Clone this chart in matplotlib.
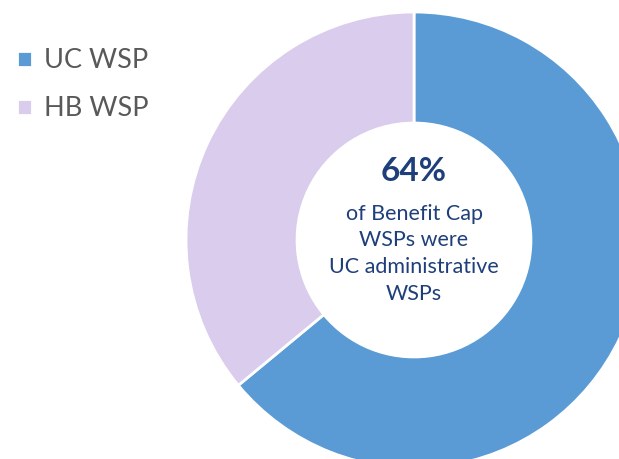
import matplotlib
matplotlib.use("Agg")
import matplotlib.pyplot as plt

labels = ["UC WSP", "HB WSP"]
values = [64, 36]
colors = ["#5B9BD5", "#D9CCEC"]
center_big = "64%"
center_text = "of Benefit Cap\nWSPs were\nUC administrative\nWSPs"

plt.rcParams['font.family'] = ['Lato', 'DejaVu Sans']

W, H = 619, 459
fig = plt.figure(figsize=(W / 100, H / 100), dpi=100)
cx, cy, r = 414, 240, 228
ax = fig.add_axes([(cx - r) / W, (H - cy - r) / H, 2 * r / W, 2 * r / H])
wedges, _ = ax.pie(values, colors=colors, startangle=90, counterclock=False,
                   radius=1.0, wedgeprops=dict(width=0.487, edgecolor="white", linewidth=2))
for w in wedges:
    w.set_clip_on(False)
ax.set_xlim(-1, 1)
ax.set_ylim(-1, 1)
ax.set_aspect("equal")
ax.axis("off")

ax.text(0, 0.30, center_big, ha="center", va="center", fontsize=24, fontweight="bold", color="#1F3F7A")
ax.text(0, -0.06, center_text, ha="center", va="center", fontsize=15.5, color="#1F3F7A", linespacing=1.42)

fig.legend(wedges, labels, loc="upper left", bbox_to_anchor=(-0.012, 0.948), frameon=False,
           fontsize=19.5, labelcolor="#595959", handlelength=0.55, handleheight=0.55,
           handletextpad=0.45, labelspacing=0.85)

fig.savefig("out.png", dpi=100)
